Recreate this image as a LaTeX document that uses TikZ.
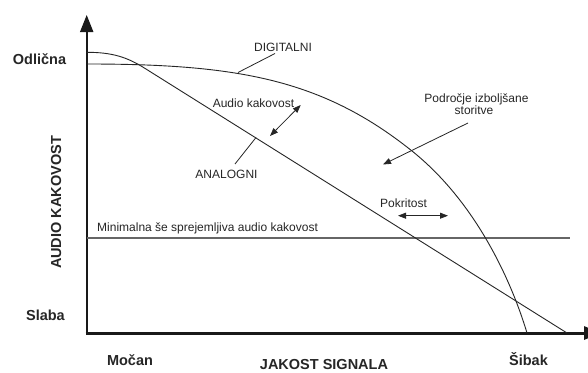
\documentclass[tikz,border=0pt]{standalone}
\usepackage{fontspec}
\setmainfont{Liberation Sans}
\usetikzlibrary{arrows.meta}
\begin{document}
\begin{tikzpicture}[x=1pt,y=-1pt,
  lbl/.style={font=\fontsize{12}{13}\selectfont, inner sep=0pt, text=black!85},
  blbl/.style={font=\fontsize{14.5}{16}\selectfont\bfseries, inner sep=0pt, text=black!85},
  curve/.style={line width=0.9pt, black!85},
  leader/.style={line width=0.8pt, black!85},
  tip/.style={line width=0.8pt, black!85, -{Triangle[length=8pt,width=6pt]}},
  dtip/.style={line width=0.8pt, black!85, {Triangle[length=8pt,width=6pt]}-{Triangle[length=8pt,width=6pt]}},
  bigtip/.style={-{Triangle[length=17pt,width=13pt]}}
]
\clip (0,0) rectangle (588,372);
\fill[white] (0,0) rectangle (588,372);

% axes
\coordinate (ybot) at (86.7,334.5);
\coordinate (ytop) at (86.7,15);
\coordinate (xbeg) at (85.7,333);
\coordinate (xend) at (601,333);
\draw[line width=2pt, black!90, bigtip] (ybot) -- (ytop);
\draw[line width=3pt, black!90, bigtip] (xbeg) -- (xend);

% minimum acceptable quality line
\coordinate (m1) at (86.7,238);
\coordinate (m2) at (570,238);
\draw[line width=1.2pt, black!60] (m1) -- (m2);

% analog curve
\coordinate (a0) at (86.7,52.3);
\coordinate (a1) at (145,68.4);
\coordinate (a2) at (567,333);
\draw[curve] (a0) .. controls (112,52.3) and (127,57) .. (a1) -- (a2);

% digital curve
\coordinate (d0) at (86.7,64);
\coordinate (d1) at (412,151);
\coordinate (d2) at (527,333);
\draw[curve] (d0) .. controls (237,64) and (322,79) .. (d1)
             .. controls (477,203) and (512,283) .. (d2);

% labels
\node[lbl, anchor=base west] (minl) at (97,231) {Minimalna še sprejemljiva audio kakovost};

\node[lbl, anchor=base] (dig) at (283,51) {DIGITALNI};
\coordinate (digp) at (238,72.5);
\coordinate (digl) at (275,53.5);
\draw[leader] (digp) -- (digl);

\node[lbl, anchor=base] (aq) at (253.5,107) {Audio kakovost};
\coordinate (aq1) at (270,136);
\coordinate (aq2) at (300.7,105);
\draw[dtip] (aq1) -- (aq2);

\node[lbl, anchor=base] (ana) at (226.5,178) {ANALOGNI};
\coordinate (anl) at (235,164);
\coordinate (anp) at (256,137.5);
\draw[leader] (anl) -- (anp);

\node[lbl, anchor=base] (pod1) at (476.5,102) {Področje izboljšane};
\node[lbl, anchor=base] (pod2) at (474,114.5) {storitve};
\coordinate (pa1) at (468,123);
\coordinate (pa2) at (383,164.5);
\draw[tip] (pa1) -- (pa2);

\node[lbl, anchor=base] (pok) at (403.5,207) {Pokritost};
\coordinate (pk1) at (398,215.7);
\coordinate (pk2) at (448,215.7);
\draw[dtip] (pk1) -- (pk2);

\node[blbl, anchor=base west] (odl) at (12.7,64.3) {Odlična};
\node[blbl, anchor=base east] (sla) at (65,320) {Slaba};
\node[blbl, rotate=90] (aud) at (56.2,202.5) {AUDIO KAKOVOST};
\node[blbl, anchor=base] (moc) at (130,365.7) {Močan};
\node[blbl, anchor=base] (jak) at (324,369.3) {JAKOST SIGNALA};
\node[blbl, anchor=base] (sib) at (528.5,365) {Šibak};
\end{tikzpicture}
\end{document}
